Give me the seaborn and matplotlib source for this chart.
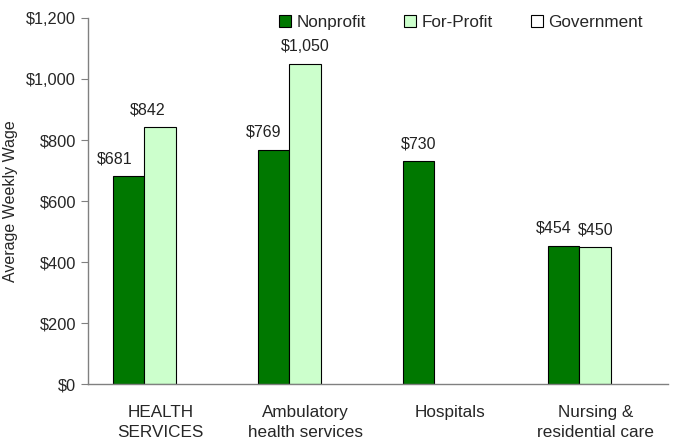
import numpy as np
import pandas as pd
import matplotlib.pyplot as plt
import seaborn as sns
from matplotlib.patches import Patch
from matplotlib.ticker import FixedLocator

categories = ["HEALTH\nSERVICES", "Ambulatory\nhealth services", "Hospitals", "Nursing &\nresidential care"]
series = ["Nonprofit", "For-Profit", "Government"]
nonprofit = [681, 769, 730, 454]
for_profit = [842, 1050, np.nan, 450]
government = [np.nan, np.nan, np.nan, np.nan]
colors = ["#007800", "#ccffcc", "#ffffff"]

df = pd.DataFrame({
    "Category": categories * 3,
    "Sector": [s for s in series for _ in categories],
    "Wage": nonprofit + for_profit + government,
})

sns.set_style("white")
plt.rcParams["font.family"] = ["Liberation Sans", "DejaVu Sans"]

fig = plt.figure(figsize=(6.76, 4.4), dpi=100)
ax = fig.add_axes([0.130, 0.127, 0.858, 0.832])

sns.barplot(data=df, x="Category", y="Wage", hue="Sector", hue_order=series,
            palette=colors, saturation=1, width=0.66, edgecolor="black", linewidth=0.8,
            errorbar=None, legend=False, ax=ax)

# value labels; some sit a little off-centre in the original
nudge = {(0, 0): -10, (1, 0): -9, (0, 1): -7, (0, 3): -7, (1, 3): 4}
for i, cont in enumerate(ax.containers):
    labels = ["" if np.isnan(v) else f"${v:,.0f}" for v in cont.datavalues]
    anns = ax.bar_label(cont, labels=labels, padding=7, fontsize=11.5, color="#222222")
    for j, ann in enumerate(anns):
        if (i, j) in nudge:
            ann.xyann = (nudge[(i, j)], ann.xyann[1])

ax.set_xlim(-0.5, 3.5)
ax.set_ylim(0, 1200)
ax.set_yticks(range(0, 1201, 200))
ax.set_yticklabels([f"${v:,}" for v in range(0, 1201, 200)], fontsize=11.8)
ax.set_ylabel("Average Weekly Wage", fontsize=11.5, labelpad=6)
ax.set_xlabel("")
ax.tick_params(axis="x", which="major", length=0, labelsize=12.3, pad=15)
for lbl in ax.get_xticklabels():
    lbl.set_linespacing(1.4)
ax.xaxis.set_minor_locator(FixedLocator([0.5, 1.5, 2.5, 3.5]))
ax.tick_params(axis="x", which="minor", length=5, color="#808080", direction="out")
ax.tick_params(axis="y", length=5, color="#808080", direction="out", left=True)

for side in ["top", "right"]:
    ax.spines[side].set_visible(False)
for side in ["left", "bottom"]:
    ax.spines[side].set_color("#808080")
    ax.spines[side].set_linewidth(1)

handles = [Patch(facecolor=c, edgecolor="black", linewidth=0.8) for c in colors]
ax.legend(handles, series, loc="upper left", bbox_to_anchor=(0.303, 1.05), ncol=3,
          frameon=False, fontsize=12.3, handlelength=0.7, handleheight=0.7,
          handletextpad=0.35, columnspacing=2.2)

fig.savefig("out.png", dpi=100)
